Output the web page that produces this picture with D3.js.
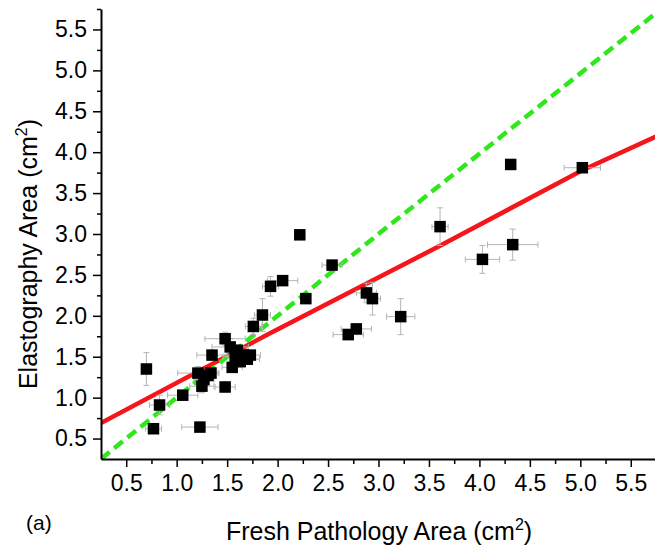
<!DOCTYPE html>
<html>
<head>
<meta charset="utf-8">
<script src="https://cdn.jsdelivr.net/npm/d3@7"></script>
<style>
  body { margin: 0; background: #fff; }
  svg text { font-family: "Liberation Sans", Arial, sans-serif; fill: #000; }
</style>
</head>
<body>
<div id="chart"></div>
<script>
// fresh pathology area (x), elastography area (y), error bars
var pathX = [0.70, 0.83, 0.77, 1.06, 1.23, 1.21, 1.25, 1.27, 1.31, 1.34, 1.35, 1.48, 1.48, 1.53, 1.55, 1.58, 1.60, 1.63, 1.66, 1.70, 1.73, 1.76, 1.85, 1.93, 2.05, 2.22, 2.28, 2.54, 2.70, 2.78, 2.88, 2.94, 3.22, 3.61, 4.03, 4.33, 4.31, 5.02];
var elastoY = [1.35, 0.91, 0.62, 1.03, 0.64, 1.30, 1.14, 1.22, 1.27, 1.30, 1.52, 1.13, 1.72, 1.62, 1.37, 1.50, 1.58, 1.44, 1.52, 1.47, 1.52, 1.87, 2.01, 2.36, 2.43, 2.99, 2.21, 2.62, 1.77, 1.84, 2.28, 2.21, 1.99, 3.09, 2.69, 2.87, 3.85, 3.81];
var errX = [0.03, 0.10, 0.08, 0.15, 0.18, 0.20, 0.12, 0.10, 0.06, 0.08, 0.15, 0.10, 0.20, 0.18, 0.10, 0.12, 0.10, 0.10, 0.08, 0.12, 0.10, 0.08, 0.08, 0.08, 0.15, 0.04, 0.04, 0.10, 0.15, 0.15, 0.10, 0.08, 0.14, 0.08, 0.17, 0.25, 0.03, 0.18];
var errY = [0.20, 0.12, 0.05, 0.06, 0.03, 0.08, 0.08, 0.06, 0.05, 0.06, 0.06, 0.06, 0.08, 0.10, 0.06, 0.06, 0.05, 0.06, 0.05, 0.06, 0.05, 0.10, 0.20, 0.12, 0.06, 0.04, 0.05, 0.03, 0.06, 0.06, 0.12, 0.20, 0.22, 0.23, 0.17, 0.19, 0.05, 0.04];

// fitted line (red) and line of identity (green dashed)
var fitLine = [[0.25, 0.69], [1.93, 1.79], [3.60, 2.85], [5.02, 3.78], [5.75, 4.19]];
var idLine = [[0.25, 0.25], [3.02, 3.02], [4.01, 3.99], [5.75, 5.70]];

var majorTicks = [0.5, 1.0, 1.5, 2.0, 2.5, 3.0, 3.5, 4.0, 4.5, 5.0, 5.5];
var minorTicks = [0.75, 1.25, 1.75, 2.25, 2.75, 3.25, 3.75, 4.25, 4.75, 5.25, 5.75];

var svgwidth = 655, svgheight = 548;
var margin = {top: 9, right: 0, bottom: 89, left: 101};
var width = 555, height = svgheight - margin.top - margin.bottom;

var svg = d3.select("#chart").append("svg")
    .attr("width", svgwidth)
    .attr("height", svgheight);

var g = svg.append("g")
    .attr("transform", "translate(" + margin.left + "," + margin.top + ")");

var x = d3.scaleLinear().domain([0.25, 5.75]).range([0, width]);
var y = d3.scaleLinear().domain([0.25, 5.75]).range([height, 0]);

g.append("clipPath").attr("id", "clip")
  .append("rect").attr("width", width).attr("height", height);

var plot = g.append("g").attr("clip-path", "url(#clip)");

// lines
var line = d3.line().x(d => x(d[0])).y(d => y(d[1]));

plot.append("path")
    .datum(fitLine)
    .attr("d", line)
    .attr("fill", "none")
    .attr("stroke", "#f5151a")
    .attr("stroke-width", 4.5);

plot.append("path")
    .datum(idLine)
    .attr("d", line)
    .attr("fill", "none")
    .attr("stroke", "#2ee81c")
    .attr("stroke-width", 4.5)
    .attr("stroke-dasharray", "11,6");

// error bars
var data = pathX.map((v, i) => ({x: v, y: elastoY[i], ex: errX[i], ey: errY[i]}));
var cap = 3;
var eb = plot.append("g").attr("stroke", "#b4b4b4").attr("stroke-width", 1).attr("fill", "none");
data.forEach(function(d) {
    var cx = x(d.x), cy = y(d.y);
    var x0 = x(d.x - d.ex), x1 = x(d.x + d.ex);
    var y0 = y(d.y - d.ey), y1 = y(d.y + d.ey);
    eb.append("line").attr("x1", x0).attr("x2", x1).attr("y1", cy).attr("y2", cy);
    eb.append("line").attr("x1", x0).attr("x2", x0).attr("y1", cy - cap).attr("y2", cy + cap);
    eb.append("line").attr("x1", x1).attr("x2", x1).attr("y1", cy - cap).attr("y2", cy + cap);
    eb.append("line").attr("x1", cx).attr("x2", cx).attr("y1", y0).attr("y2", y1);
    eb.append("line").attr("x1", cx - cap).attr("x2", cx + cap).attr("y1", y0).attr("y2", y0);
    eb.append("line").attr("x1", cx - cap).attr("x2", cx + cap).attr("y1", y1).attr("y2", y1);
});

// squares
var sq = 11.5;
plot.selectAll("rect.pt")
    .data(data)
  .enter().append("rect")
    .attr("class", "pt")
    .attr("x", d => x(d.x) - sq / 2)
    .attr("y", d => y(d.y) - sq / 2)
    .attr("width", sq)
    .attr("height", sq)
    .attr("fill", "#000");

// axes
var fmt = d3.format(".1f");

g.append("g")
    .attr("transform", "translate(0," + height + ")")
    .call(d3.axisBottom(x).tickValues(minorTicks).tickSize(5).tickFormat(""))
    .call(a => a.select(".domain").remove())
    .selectAll("line").attr("stroke-width", 1.5);

var xAx = g.append("g")
    .attr("transform", "translate(0," + height + ")")
    .call(d3.axisBottom(x).tickValues(majorTicks).tickSize(8).tickSizeOuter(0).tickPadding(8).tickFormat(fmt));
xAx.select(".domain").attr("stroke-width", 2);
xAx.selectAll(".tick line").attr("stroke-width", 1.5);
xAx.selectAll("text").style("font-size", "23px");

g.append("g")
    .call(d3.axisLeft(y).tickValues(minorTicks).tickSize(4).tickFormat(""))
    .call(a => a.select(".domain").remove())
    .selectAll("line").attr("stroke-width", 1.5);

var yAx = g.append("g")
    .call(d3.axisLeft(y).tickValues(majorTicks).tickSize(8).tickSizeOuter(0).tickPadding(6).tickFormat(fmt));
yAx.select(".domain").attr("stroke-width", 2);
yAx.selectAll(".tick line").attr("stroke-width", 1.5);
yAx.selectAll("text").style("font-size", "23px");

// axis titles
var xt = svg.append("text")
    .attr("x", 379)
    .attr("y", 540)
    .attr("text-anchor", "middle")
    .style("font-size", "25px");
xt.append("tspan").text("Fresh Pathology Area (cm");
xt.append("tspan").attr("dy", -10).style("font-size", "16px").text("2");
xt.append("tspan").attr("dy", 10).text(")");

var yt = svg.append("text")
    .attr("transform", "translate(37,254) rotate(-90)")
    .attr("text-anchor", "middle")
    .style("font-size", "25px");
yt.append("tspan").text("Elastography Area (cm");
yt.append("tspan").attr("dy", -10).style("font-size", "16px").text("2");
yt.append("tspan").attr("dy", 10).text(")");

svg.append("text")
    .attr("x", 26)
    .attr("y", 530)
    .style("font-size", "21px")
    .text("(a)");
</script>
</body>
</html>
